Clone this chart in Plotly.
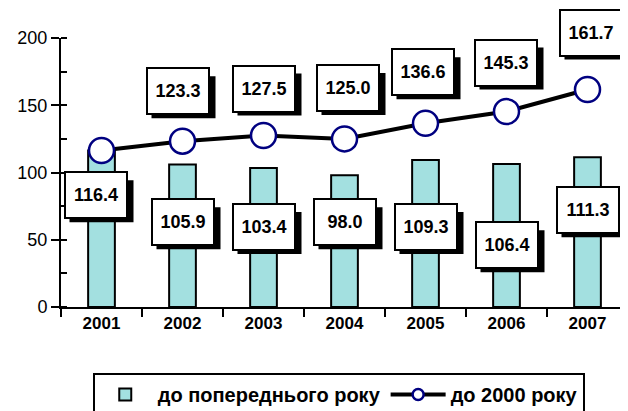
import plotly.graph_objects as go

years = ["2001", "2002", "2003", "2004", "2005", "2006", "2007"]
prev_year = [116.4, 105.9, 103.4, 98.0, 109.3, 106.4, 111.3]
to_2000 = [116.4, 123.3, 127.5, 125.0, 136.6, 145.3, 161.7]

# label placement (layout only)
bar_label_y = [83, 63, 59.5, 63, 59.5, 46, 72]
line_label_shift = [None, (-5, 50), (0, 47), (3, 51), (-3, 51), (-1, 49), (3, 57)]

FONT = "Arial, Liberation Sans, sans-serif"
BAR_COLOR = "#a3e0e0"
BOX_W, BOX_H = 64, 42
SHADOW = 6

fig = go.Figure()

fig.add_trace(go.Bar(
    x=years, y=prev_year, name="до попереднього року",
    width=0.33,
    marker=dict(color=BAR_COLOR, line=dict(color="black", width=2)),
))

fig.add_trace(go.Scatter(
    x=years, y=to_2000, name="до 2000 року",
    mode="lines+markers", showlegend=False, legendgroup="l2000",
    line=dict(color="black", width=4),
    marker=dict(size=25, color="white", line=dict(color="#000080", width=2.5)),
))

# legend entry with the small marker used in the reference legend
fig.add_trace(go.Scatter(
    x=[None], y=[None], name="до 2000 року",
    mode="lines+markers", legendgroup="l2000",
    line=dict(color="black", width=4),
    marker=dict(size=11, color="white", line=dict(color="#000080", width=2.5)),
))


def boxed_label(i, y, text, xshift=0, yshift=0):
    # drop shadow as a pixel-sized rectangle anchored to the data point
    fig.add_shape(type="rect", xref="x", yref="y",
                  xsizemode="pixel", ysizemode="pixel",
                  xanchor=i, yanchor=y,
                  x0=xshift + SHADOW - BOX_W / 2, x1=xshift + SHADOW + BOX_W / 2,
                  y0=yshift - SHADOW - BOX_H / 2, y1=yshift - SHADOW + BOX_H / 2,
                  fillcolor="black", line=dict(width=0), layer="above")
    fig.add_annotation(x=i, y=y, xref="x", yref="y", text=text, showarrow=False,
                       width=54, height=38, borderpad=3, borderwidth=2,
                       bordercolor="black", bgcolor="white",
                       xshift=xshift, yshift=yshift,
                       font=dict(family=FONT, size=18, color="black", weight="bold"))


# bar labels
for i, (v, ly) in enumerate(zip(prev_year, bar_label_y)):
    dx = -6 if i == 0 else 0
    boxed_label(i, ly, f"{v:.1f}", xshift=dx)

# line labels
for i, (v, sh) in enumerate(zip(to_2000, line_label_shift)):
    if sh is None:
        continue
    boxed_label(i, v, f"{v:.1f}", xshift=sh[0], yshift=sh[1])

fig.update_layout(
    width=628, height=411,
    margin=dict(l=53, r=8, t=30, b=112, autoexpand=False),
    paper_bgcolor="white", plot_bgcolor="white",
    font=dict(family=FONT, color="black"),
    bargap=0.67,
    showlegend=True,
    legend=dict(
        orientation="h", x=0.056, y=-0.245, xanchor="left", yanchor="top",
        bordercolor="black", borderwidth=2, bgcolor="white",
        font=dict(family=FONT, size=20, color="black", weight="bold"),
        itemwidth=55, tracegroupgap=0,
    ),
)

fig.update_xaxes(
    type="category", range=[-0.5, 6.5],
    showline=True, linecolor="black", linewidth=2,
    ticks="outside", ticklen=8, tickwidth=2, tickcolor="black",
    tickson="boundaries",
    tickfont=dict(family=FONT, size=17, weight="bold"),
    showgrid=False, zeroline=False,
)

fig.update_yaxes(
    range=[0, 200], dtick=50,
    showline=True, linecolor="black", linewidth=2,
    ticks="outside", ticklen=8, tickwidth=2, tickcolor="black",
    minor=dict(dtick=25, ticks="inside", ticklen=6, tickwidth=2, tickcolor="black"),
    tickfont=dict(family=FONT, size=18),
    showgrid=False, zeroline=False,
)

fig.write_html("out.html")
